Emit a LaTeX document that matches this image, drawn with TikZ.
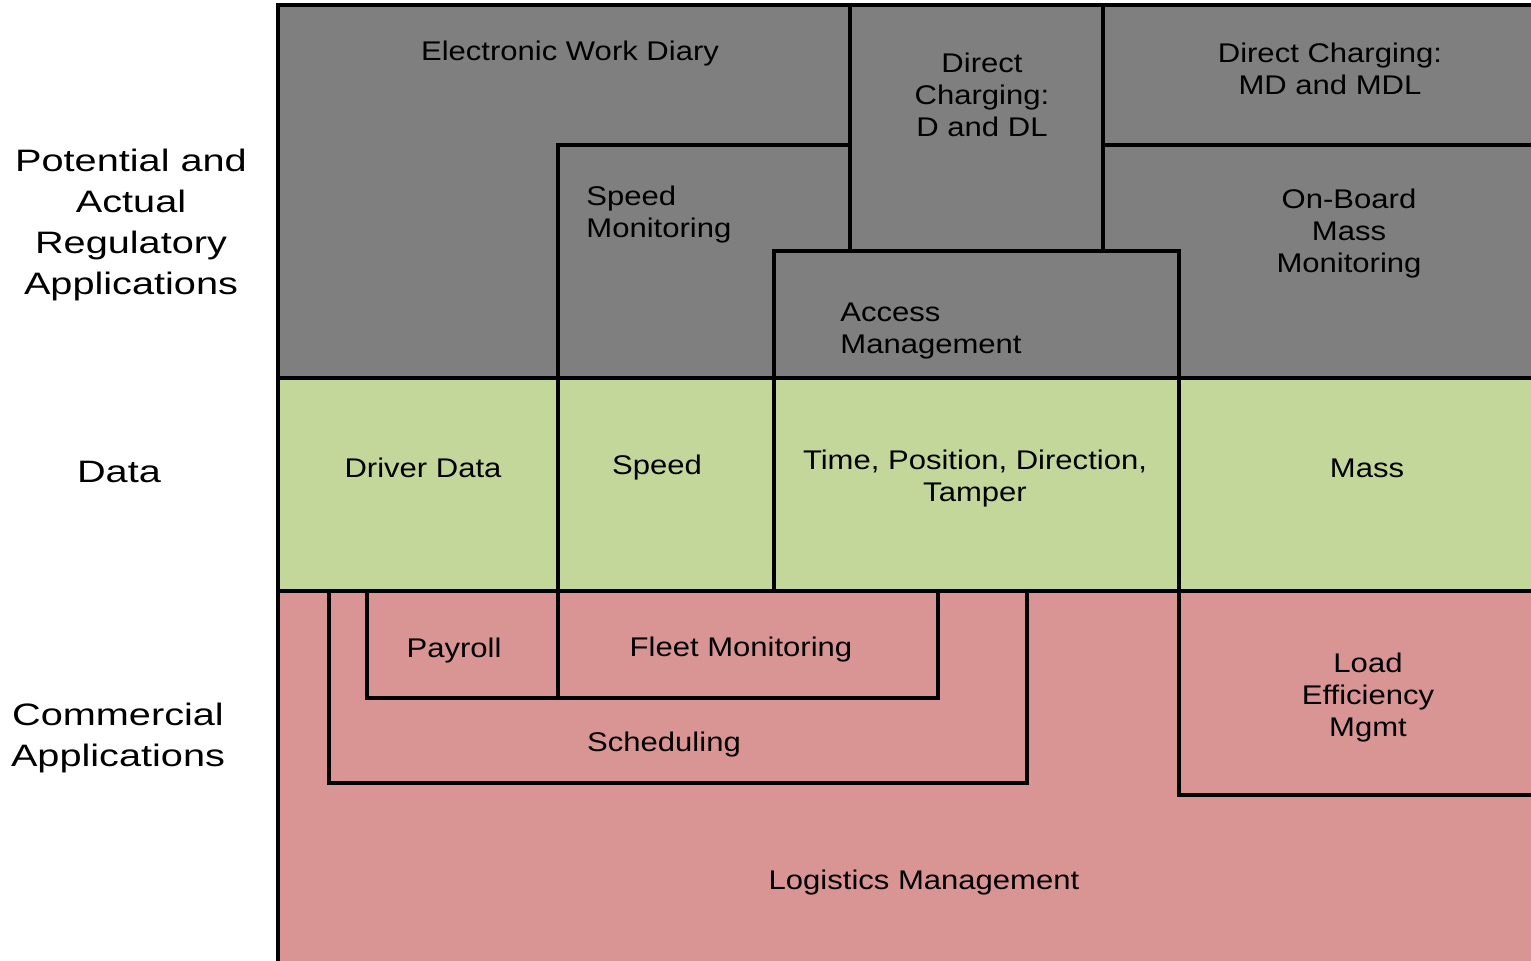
\documentclass[tikz,border=0pt]{standalone}
\usepackage{fontspec}
\setmainfont{Liberation Sans}[FakeStretch=1.15]
\newfontfamily\sidefont{Liberation Sans}[FakeStretch=1.28]
\definecolor{regulgray}{HTML}{7F7F7F}
\definecolor{datagreen}{HTML}{C4D79B}
\definecolor{commpink}{HTML}{D99594}

\begin{document}
\begin{tikzpicture}[x=0.5pt,y=-0.5pt]
    \tikzstyle{wall}=[line width=1.6pt, line cap=rect]
    \tikzstyle{annot}=[font=\fontsize{13.5}{16}\selectfont, align=center, inner sep=0pt, yshift=-1.5pt]
    \tikzstyle{sidelabel}=[font=\sidefont\fontsize{15.5}{20.5}\selectfont, align=center, inner sep=0pt, yshift=-1.5pt]
    \useasboundingbox (0,0) rectangle (1531,961);
    \fill[white] (0,0) rectangle (1531,961);
    \clip (0,0) rectangle (1531,961);
%    layers
    \fill[regulgray] (278,5) rectangle (1540,378);
    \fill[datagreen] (278,378) rectangle (1540,591);
    \fill[commpink] (278,591) rectangle (1540,970);
    \draw[wall] (1540,5) -- (278,5) -- (278,970);
    \draw[wall] (278,378) -- (1540,378);
    \draw[wall] (278,591) -- (1540,591);
%    regulatory applications
    \draw[wall] (850,5) -- (850,251);
    \draw[wall] (1103,5) -- (1103,251);
    \draw[wall] (558,591) -- (558,145) -- (850,145);
    \draw[wall] (1103,145) -- (1540,145);
    \draw[wall] (774,591) -- (774,251) -- (1179,251) -- (1179,795) -- (1540,795);
%    commercial applications
    \draw[wall] (329,591) -- (329,783) -- (1027,783) -- (1027,591);
    \draw[wall] (367,591) -- (367,698) -- (938,698) -- (938,591);
    \draw[wall] (558,591) -- (558,698);
%    side labels
    \node[sidelabel] (regul) at (131,222) {Potential and\\Actual\\Regulatory\\Applications};
    \node[sidelabel] (data) at (119,469) {Data};
    \node[sidelabel] (comm) at (118,735) {Commercial\\Applications};
%    boxes
    \node[annot] (ewd) at (570,51) {Electronic Work Diary};
    \node[annot] (dcd) at (982,92) {Direct\\Charging:\\D and DL};
    \node[annot] (dcmd) at (1330,66) {Direct Charging:\\MD and MDL};
    \node[annot, align=left, anchor=west] (speedmon) at (586,212) {Speed\\Monitoring};
    \node[annot] (obm) at (1349,231) {On-Board\\Mass\\Monitoring};
    \node[annot, align=left, anchor=west] (access) at (840,328) {Access\\Management};
    \node[annot] (driver) at (423,465) {Driver Data};
    \node[annot] (speed) at (657,465) {Speed};
    \node[annot] (tpdt) at (975,476) {Time, Position, Direction,\\Tamper};
    \node[annot] (mass) at (1367,465) {Mass};
    \node[annot] (payroll) at (454,648) {Payroll};
    \node[annot] (fleet) at (741,647) {Fleet Monitoring};
    \node[annot] (sched) at (664,742) {Scheduling};
    \node[annot] (load) at (1368,695) {Load\\Efficiency\\Mgmt};
    \node[annot] (logist) at (924,880) {Logistics Management};
\end{tikzpicture}
\end{document}
